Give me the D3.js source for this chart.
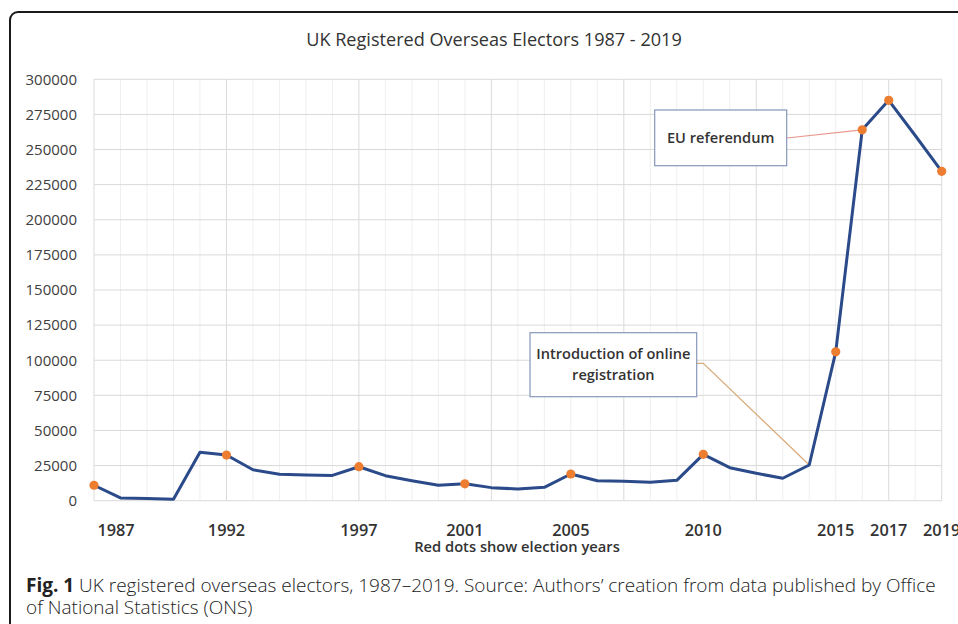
<!DOCTYPE html>
<html>
<head>
<meta charset="utf-8">
<script src="https://cdn.jsdelivr.net/npm/d3@7"></script>
<style>
  html, body { margin: 0; padding: 0; background: #fff; }
  svg { display: block; }
  text { font-family: "Open Sans", sans-serif; }
</style>
</head>
<body>
<svg id="chart" width="958" height="624"></svg>
<script>
// registered overseas electors, one value per year
var years = [1987, 1988, 1989, 1990, 1991, 1992, 1993, 1994, 1995, 1996, 1997,
  1998, 1999, 2000, 2001, 2002, 2003, 2004, 2005, 2006, 2007, 2008,
  2009, 2010, 2011, 2012, 2013, 2014, 2015, 2016, 2017, 2018, 2019];
var electors = [11000, 2000, 1500, 1000, 34500, 32500, 22000, 18800, 18300, 18000, 24200,
  17800, 14200, 11000, 12000, 9300, 8300, 9500, 19000, 14200, 13800, 13100,
  14500, 33000, 23500, 19500, 16000, 25400, 106000, 264000, 285000, 260000, 234500];
var electionYears = [1987, 1992, 1997, 2001, 2005, 2010, 2015, 2016, 2017, 2019];
var tickYears = [1987, 1992, 1997, 2001, 2005, 2010, 2015, 2017, 2019];
var yTicks = [0, 25000, 50000, 75000, 100000, 125000, 150000, 175000, 200000, 225000, 250000, 275000, 300000];

var title = "UK Registered Overseas Electors 1987 - 2019";
var xTitle = "Red dots show election years";

(function () {
  var svg = d3.select("#chart");

  // outer frame of the figure panel
  svg.append("rect")
    .attr("x", 10).attr("y", 12)
    .attr("width", 1000).attr("height", 700)
    .attr("rx", 8)
    .attr("fill", "#fff")
    .attr("stroke", "#1a1a1a")
    .attr("stroke-width", 2);

  var pl = 94, pr = 941.7, pt = 79.3, pb = 500.7;

  var x = d3.scaleLinear().domain([1987, 2019]).range([pl, pr]);
  var y = d3.scaleLinear().domain([0, 300000]).range([pb, pt]);

  var data = years.map(function (yr, i) { return { year: yr, value: electors[i] }; });

  // vertical grid: every year light, every fifth a bit darker
  svg.append("g")
    .selectAll("line")
    .data(years)
    .enter()
    .append("line")
    .attr("x1", function (d) { return x(d); })
    .attr("x2", function (d) { return x(d); })
    .attr("y1", pt).attr("y2", pb)
    .attr("stroke", function (d, i) { return (i % 5 === 0 || i === years.length - 1) ? "#dadada" : "#efefef"; })
    .attr("stroke-width", 1);

  // horizontal grid
  svg.append("g")
    .selectAll("line")
    .data(yTicks)
    .enter()
    .append("line")
    .attr("x1", pl).attr("x2", pr)
    .attr("y1", function (d) { return y(d); })
    .attr("y2", function (d) { return y(d); })
    .attr("stroke", "#d9d9d9")
    .attr("stroke-width", 1);

  // y axis labels
  var yAxis = d3.axisLeft(y).tickValues(yTicks).tickSize(0).tickPadding(17).tickFormat(d3.format("d"));
  svg.append("g")
    .attr("transform", "translate(" + pl + ",0)")
    .call(yAxis)
    .call(function (g) { g.select(".domain").remove(); })
    .selectAll("text")
    .attr("font-family", "Open Sans")
    .attr("font-size", 15)
    .attr("fill", "#404040");

  // x labels
  svg.append("g")
    .selectAll("text")
    .data(tickYears)
    .enter()
    .append("text")
    .attr("x", function (d) { return Math.max(x(d), pl + 22); })
    .attr("y", 536)
    .attr("text-anchor", "middle")
    .attr("font-size", 16.3)
    .attr("font-weight", 600)
    .attr("fill", "#333")
    .text(function (d) { return d; });

  svg.append("text")
    .attr("x", 517).attr("y", 552)
    .attr("text-anchor", "middle")
    .attr("font-size", 14.7)
    .attr("font-weight", 600)
    .attr("fill", "#333")
    .text(xTitle);

  svg.append("text")
    .attr("x", 494).attr("y", 46)
    .attr("text-anchor", "middle")
    .attr("font-size", 18.1)
    .attr("fill", "#333")
    .text(title);

  // annotations
  function callout(box, lines, target, color, elbow) {
    var g = svg.append("g");
    var tx = x(target.year), ty = y(target.value);
    var pts = [[box.x + box.w, box.ly]];
    if (elbow) pts.push([box.x + box.w + elbow, box.ly]);
    pts.push([tx, ty]);
    g.append("path")
      .attr("d", d3.line()(pts))
      .attr("fill", "none")
      .attr("stroke", color)
      .attr("stroke-width", 1.2);
    g.append("rect")
      .attr("x", box.x).attr("y", box.y)
      .attr("width", box.w).attr("height", box.h)
      .attr("fill", "#fff")
      .attr("stroke", "#8597b8")
      .attr("stroke-width", 1.2);
    lines.forEach(function (t, i) {
      g.append("text")
        .attr("x", box.x + box.w / 2)
        .attr("y", box.ty + i * 21)
        .attr("text-anchor", "middle")
        .attr("font-size", 14.6)
        .attr("font-weight", 600)
        .attr("fill", "#333")
        .text(t);
    });
  }

  callout({ x: 530, y: 332.7, w: 166.7, h: 64, ly: 363.3, ty: 359 },
    ["Introduction of online", "registration"], data[27], "#d9aa7a", 6.6);
  callout({ x: 654.7, y: 110, w: 132, h: 55.7, ly: 138, ty: 143 },
    ["EU referendum"], data[29], "#e8978a", 0);

  // series line
  svg.append("path")
    .datum(data)
    .attr("d", d3.line().x(function (d) { return x(d.year); }).y(function (d) { return y(d.value); }))
    .attr("fill", "none")
    .attr("stroke", "#2b4a8a")
    .attr("stroke-width", 3)
    .attr("stroke-linejoin", "round");

  // election year dots
  svg.append("g")
    .selectAll("circle")
    .data(data.filter(function (d) { return electionYears.indexOf(d.year) >= 0; }))
    .enter()
    .append("circle")
    .attr("cx", function (d) { return x(d.year); })
    .attr("cy", function (d) { return y(d.value); })
    .attr("r", 4.6)
    .attr("fill", "#ed7d31");

  // figure caption
  var cap = svg.append("text")
    .attr("x", 26).attr("y", 592)
    .attr("font-size", 19)
    .attr("font-weight", 300)
    .attr("fill", "#222");
  cap.append("tspan").attr("font-weight", 700).text("Fig. 1");
  cap.append("tspan").text(" UK registered overseas electors, 1987–2019. Source: Authors’ creation from data published by Office");
  svg.append("text")
    .attr("x", 26).attr("y", 614)
    .attr("font-size", 19)
    .attr("font-weight", 300)
    .attr("fill", "#222")
    .text("of National Statistics (ONS)");
})();
</script>
</body>
</html>
